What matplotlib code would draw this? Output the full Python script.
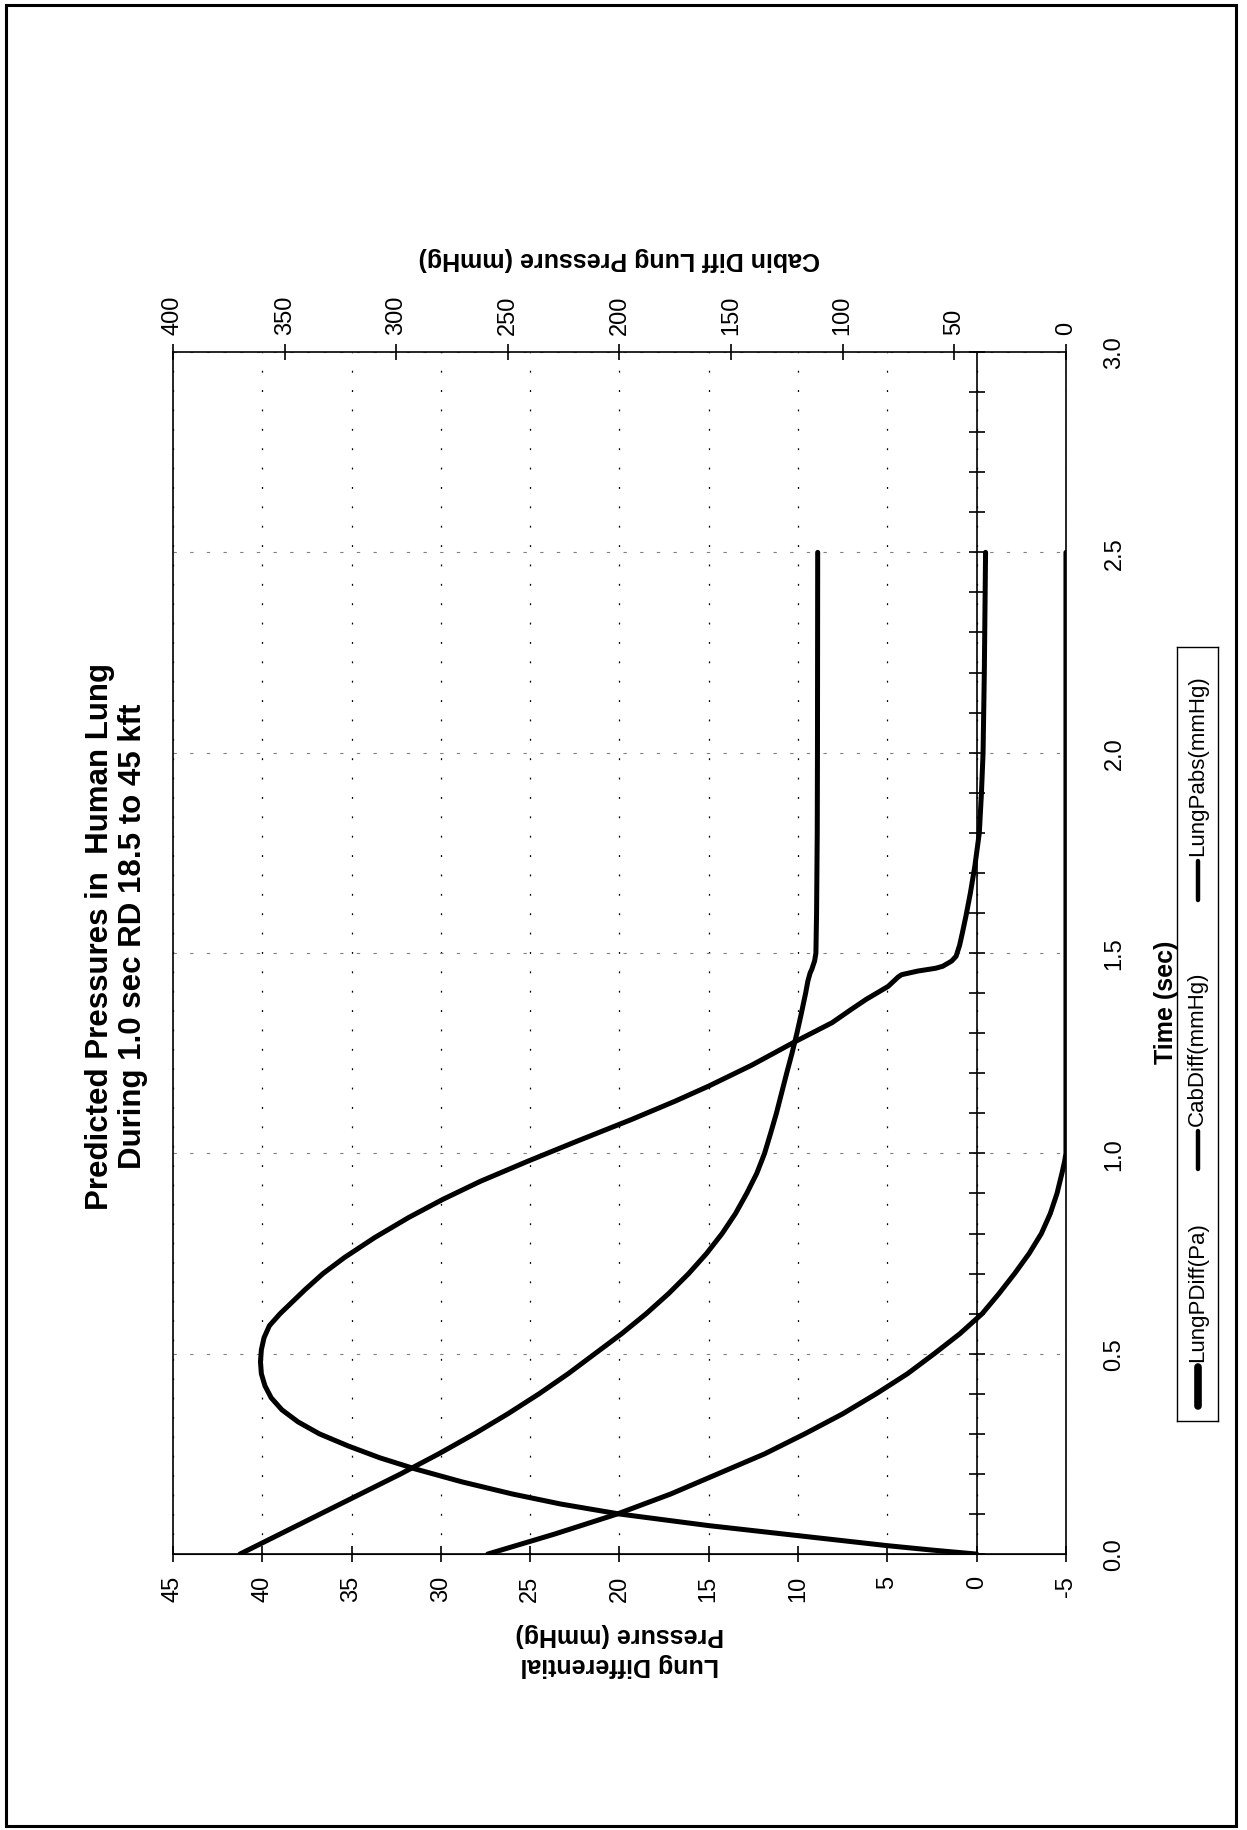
import numpy as np
import matplotlib
matplotlib.use("Agg")
import matplotlib.pyplot as plt
from matplotlib.ticker import MultipleLocator
from matplotlib.patches import Rectangle

plt.rcParams['font.family'] = ['Liberation Sans', 'DejaVu Sans']
plt.rcParams['axes.unicode_minus'] = False

# LungPDiff, plotted against the left (differential) axis, mmHg
t_pdiff = [0.0, 0.01, 0.021, 0.046, 0.071, 0.10, 0.125, 0.15, 0.18, 0.212, 0.24,
           0.27, 0.30, 0.33, 0.36, 0.39, 0.42, 0.45, 0.48, 0.51, 0.54, 0.57,
           0.60, 0.63, 0.66, 0.70, 0.74, 0.79, 0.84, 0.885, 0.93, 0.981, 1.03,
           1.085, 1.13, 1.168, 1.22, 1.278, 1.326, 1.36, 1.384, 1.417, 1.44,
           1.446, 1.455, 1.462, 1.467, 1.48, 1.492, 1.52, 1.55, 1.592, 1.65,
           1.717, 1.8, 1.9, 2.0, 2.2, 2.5]
lung_pdiff = [0.0, 2.5, 5.0, 10.0, 15.0, 20.0, 23.3, 26.0, 28.8, 31.4, 33.4,
              35.2, 36.8, 38.0, 38.9, 39.5, 39.85, 40.05, 40.1, 40.05, 39.9, 39.6,
              39.0, 38.3, 37.6, 36.6, 35.4, 33.7, 31.8, 29.9, 27.8, 25.1, 22.4,
              19.3, 16.9, 15.0, 12.6, 10.2, 8.1, 7.0, 6.2, 4.95, 4.4,
              4.2, 3.3, 2.3, 1.9, 1.4, 1.15, 0.95, 0.8, 0.6, 0.35,
              0.1, -0.15, -0.27, -0.36, -0.43, -0.5]

# CabDiff, plotted against the cabin axis, mmHg
t_cab = [0.0, 0.05, 0.1, 0.15, 0.2, 0.25, 0.3, 0.35, 0.4, 0.45, 0.5, 0.55,
         0.6, 0.65, 0.7, 0.75, 0.8, 0.85, 0.9, 0.95, 0.98, 1.0, 1.5, 2.0, 2.5]
cab_diff = [259, 229, 201, 177, 156, 135, 117, 100, 85, 71, 59, 47.5,
            37.5, 30, 23, 16.5, 11, 7, 4, 1.8, 0.6, 0, 0, 0, 0]

# LungPabs, plotted against the cabin axis, mmHg
t_pabs = [0.0, 0.05, 0.1, 0.15, 0.2, 0.25, 0.3, 0.35, 0.4, 0.45, 0.5, 0.55,
          0.6, 0.65, 0.7, 0.75, 0.8, 0.85, 0.9, 0.95, 1.0, 1.05, 1.1, 1.15,
          1.2, 1.25, 1.3, 1.35, 1.4, 1.43, 1.45, 1.46, 1.47, 1.48, 1.5, 1.6,
          1.8, 2.0, 2.5]
lung_pabs = [370, 352, 334, 316, 298, 281, 265, 250, 236, 223, 211, 199,
             188, 178, 169, 161, 154, 148, 143, 138.5, 135, 132.3, 129.7, 127.4,
             125.1, 122.7, 120.5, 118.5, 116.6, 115.6, 114.6, 113.8, 113.2, 112.6,
             112.0, 111.7, 111.4, 111.3, 111.2]

left_ticks = np.arange(-5, 46, 5)
cabin_ticks = np.arange(0, 401, 50)
time_ticks = [0.0, 0.5, 1.0, 1.5, 2.0, 2.5, 3.0]
series_names = ['LungPDiff(Pa)', 'CabDiff(mmHg)', 'LungPabs(mmHg)']

fig = plt.figure(figsize=(12.47, 18.31), dpi=100)

# the page is turned: time runs up the page, pressure runs right-to-left
ax = fig.add_axes([0.1387, 0.1507, 0.7161, 0.6565])
ax.set_xlim(45, -5)
ax.set_ylim(0, 3)
ax2 = ax.twiny()
ax2.set_xlim(400, 0)

ax.plot(lung_pdiff, t_pdiff, color='k', lw=3.6, solid_capstyle='round',
        solid_joinstyle='round', zorder=3)
ax2.plot(cab_diff, t_cab, color='k', lw=3.6, solid_capstyle='round',
         solid_joinstyle='round', zorder=3)
ax2.plot(lung_pabs, t_pabs, color='k', lw=3.6, solid_capstyle='round',
         solid_joinstyle='round', zorder=3)

# time axis crosses at 0 on the differential scale
ax.spines['left'].set_position(('data', 0))
ax.spines['left'].set_linewidth(1.2)
ax.spines['right'].set_visible(False)
ax.spines['top'].set_visible(False)
ax.yaxis.set_major_locator(MultipleLocator(0.5))
ax.yaxis.set_minor_locator(MultipleLocator(0.1))
ax.tick_params(axis='y', which='both', direction='inout', length=12, width=1.2,
               labelleft=False)

ax.set_xticks(left_ticks)
ax.tick_params(axis='x', direction='inout', length=12, width=1.2, labelsize=17,
               labelrotation=90, pad=9)
ax2.set_xticks(cabin_ticks)
ax2.tick_params(axis='x', direction='inout', length=12, width=1.2, labelsize=17,
                labelrotation=90, pad=7)
for sp in ax2.spines.values():
    sp.set_linewidth(1.2)

ax.grid(axis='x', color='k', lw=0.9, linestyle=(0, (1.5, 14)))
ax.grid(axis='y', which='major', color='0.5', lw=0.8, linestyle=(0, (3, 12)))

# time labels sit at the plot edge, not at the crossing axis
sec = ax.secondary_yaxis('right')
sec.set_yticks(time_ticks, labels=[f'{v:.1f}' for v in time_ticks],
               rotation=90, va='center')
sec.tick_params(axis='y', length=0, pad=27, labelsize=17)
sec.spines['right'].set_visible(False)

ax.yaxis.set_label_position('right')
ax.set_ylabel('Time (sec)', fontsize=18, fontweight='bold', rotation=90,
              ha='center', va='center')
ax.yaxis.set_label_coords(1.112, 0.46)

ax.set_xlabel('Lung Differential\nPressure (mmHg)', fontsize=18, fontweight='bold',
              rotation=180, ha='center', va='center', linespacing=1.35)
ax.xaxis.set_label_coords(0.5, -0.079)
ax2.set_xlabel('Cabin Diff Lung Pressure (mmHg)', fontsize=18, fontweight='bold',
               rotation=180, ha='center', va='center')
ax2.xaxis.set_label_coords(0.5, 1.078)

fig.text(0.0934, 0.4888,
         'Predicted Pressures in  Human Lung\nDuring 1.0 sec RD 18.5 to 45 kft',
         rotation=90, ha='center', va='center', fontsize=22.5, fontweight='bold',
         linespacing=1.15)

# legend, laid out along the turned page
leg = fig.add_axes([1177 / 1247, 1 - 1422 / 1831, 41 / 1247, 774 / 1831])
leg.set_xlim(0, 1)
leg.set_ylim(0, 1)
leg.set_xticks([])
leg.set_yticks([])
for sp in leg.spines.values():
    sp.set_linewidth(1.0)
slots = [0.02, 0.325, 0.673]
for name, y0, w in zip(series_names, slots, [5.5, 3.2, 3.2]):
    leg.plot([0.5, 0.5], [y0, y0 + 0.05], color='k', lw=w, solid_capstyle='round')
    leg.text(0.5, y0 + 0.058, name, rotation=90, ha='center', va='bottom',
             fontsize=16)

# page border
fig.add_artist(Rectangle((6 / 1247, 4 / 1831), 1230 / 1247, 1821 / 1831,
                         transform=fig.transFigure, fill=False, lw=2.2, ec='k'))

fig.savefig('out.png', dpi=100, facecolor='white')
